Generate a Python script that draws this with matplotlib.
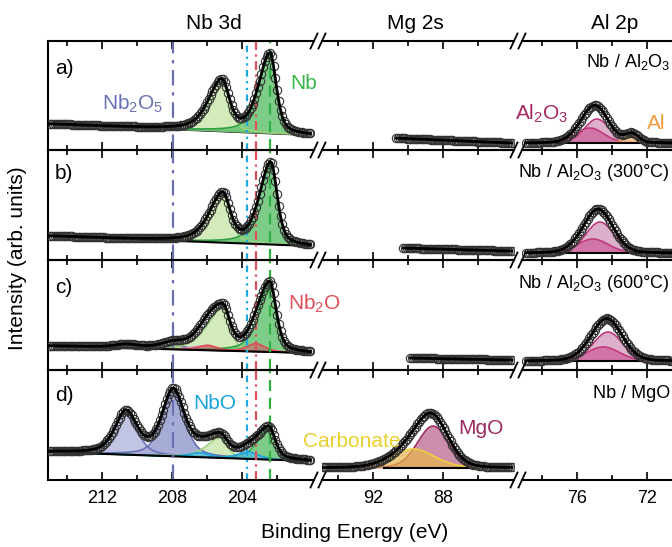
import numpy as np
import matplotlib.pyplot as plt
from matplotlib.lines import Line2D

plt.rcParams['font.family'] = ['Liberation Sans', 'DejaVu Sans']
plt.rcParams['mathtext.default'] = 'regular'

W, H = 672, 547

# ---------------- values ----------------
# intensities are arbitrary units (roughly px above the floor of each row)
row_tags = ['a)', 'b)', 'c)', 'd)']
samples = ['Nb / Al$_2$O$_3$', 'Nb / Al$_2$O$_3$ (300°C)',
           'Nb / Al$_2$O$_3$ (600°C)', 'Nb / MgO']

# Nb 3d
nb_E = (215.09, 200.1)
nb_bg_hi = [26, 24, 24, 28]
nb_bg_lo = [15, 14, 17, 19]
nb_met_pos = [202.40, 202.35, 202.40, 202.46]
nb_met_amp = [80, 82, 67, 31]
nb_met32_pos = [205.15, 205.10, 205.10, 205.25]
nb_met32_amp = [50, 48, 42, 20]
nb_met32_tail = [1.8, 1.8, 2.2, 1.8]
nb2o5_pos = [207.93, 210.63]
nb2o5_amp = [[0, 0], [0, 0], [5, 3], [65, 42]]
nbo_pos = [203.65, 206.40]
nbo_amp = [[0, 0], [0, 0], [0, 0], [7, 4.5]]
nb2o_pos = [203.20, 205.95]
nb2o_amp = [[0, 0], [0, 0], [8, 5], [0, 0]]
nbo2_pos = 206.3
nbo2_amp = [0, 0, 4, 0]
nb_marks = [207.93, 203.73, 203.20, 202.40]   # Nb2O5, NbO, Nb2O, Nb

# Mg 2s
mg_flat_start = [90.74, 90.34, 89.90]
mg_flat_end = 84.06
mg_flat_hi = [12, 12, 12]
mg_flat_lo = [7, 9, 10]
mg_d_E = (94.9, 84.06)
mg_d_bg = 12
mgo = (88.57, 42, 2.1)
carbonate = (89.70, 19, 2.9)

# Al 2p
al_E = (78.97, 68.7)
al_bg = [7, 7, 9]
al2o3_pos = [74.86, 74.69, 74.23]
al2o3_amp = [24, 31, 29]
al2o3_w = [1.7, 1.9, 2.0]
al2o3b_pos = [75.26, 75.09, 74.50]
al2o3b_amp = [15, 14, 14]
al2o3b_w = [1.9, 2.1, 2.2]
al_met = (72.86, 9, 0.9)

# ---------------- helpers ----------------
def pv(E, c, h, w, tail=1.0, eta=0.5):
    ww = np.where(E > c, w * tail, w)
    x = 2 * (E - c) / ww
    return h * (eta / (1 + x**2) + (1 - eta) * np.exp(-np.log(2) * x**2))

def comp(ax, E, base, y, fc, ec, alpha=0.75, z=1.0):
    ax.fill_between(E, base, base + y, color=fc, alpha=alpha, lw=0, zorder=z)
    ax.plot(E, base + y, color=ec, lw=1.2, zorder=z + 0.05)

def data(ax, E, y):
    ax.plot(E, y, 'o', ms=6, mfc='none', mec='#333333', mew=0.8, zorder=3)

def fit(ax, E, y):
    ax.plot(E, y, color='k', lw=2, zorder=4)

def box(x0, x1, y0, y1):
    return [x0 / W, 1 - y1 / H, (x1 - x0) / W, (y1 - y0) / H]

fig = plt.figure(figsize=(W / 100, H / 100), dpi=100)

tops = [41, 150, 260, 370]
bots = [150, 260, 370, 480]
cols = [(48, 314), (322, 514), (522, 705)]
xlims = [(215.086, 199.886), (94.914, 83.943), (79.143, 68.686)]
majors = [[212, 208, 204], [92, 88], [76, 72]]
minors = [[214, 210, 206, 202], [94, 90, 86], [78, 74, 70]]

axes = []
for r in range(4):
    row = []
    for c in range(3):
        ax = fig.add_axes(box(cols[c][0], cols[c][1], tops[r], bots[r]))
        ax.set_xlim(*xlims[c])
        ax.set_ylim(0, bots[r] - tops[r])
        ax.set_yticks([])
        ax.set_xticks(majors[c])
        ax.set_xticks(minors[c], minor=True)
        ax.tick_params(which='both', direction='in', top=True, bottom=True,
                       width=1.2, labelsize=13, pad=7, labelbottom=(r == 3))
        ax.tick_params(which='major', length=6)
        ax.tick_params(which='minor', length=3.5)
        ax.spines['right'].set_visible(False)
        ax.spines['left'].set_visible(c == 0)
        for s in ax.spines.values():
            s.set_linewidth(1.5)
        ax.patch.set_alpha(0)
        row.append(ax)
    axes.append(row)

# ---------------- Nb 3d ----------------
blue_fc = ['#8a90c9', '#adb1da']
for r in range(4):
    ax = axes[r][0]
    E = np.arange(nb_E[1], nb_E[0], 0.1)[::-1]
    bg = nb_bg_lo[r] + (E - nb_E[1]) / (nb_E[0] - nb_E[1]) * (nb_bg_hi[r] - nb_bg_lo[r])
    parts = []
    for k in range(2):
        if nb2o5_amp[r][k] > 0:
            y = pv(E, nb2o5_pos[k], nb2o5_amp[r][k], 1.5)
            comp(ax, E, bg, y, blue_fc[k], '#6b72b6')
            parts.append(y)
    if nbo2_amp[r] > 0:
        y = pv(E, nbo2_pos, nbo2_amp[r], 1.5)
        comp(ax, E, bg, y, '#dcaac6', '#cf8fb5')
        parts.append(y)
    w32 = 0.95 if r == 2 else 1.0
    y = pv(E, nb_met32_pos[r], nb_met32_amp[r], w32, nb_met32_tail[r])
    comp(ax, E, bg, y, '#c9e6aa', '#9fd37f', alpha=0.8)
    parts.append(y)
    y = pv(E, nb_met_pos[r], nb_met_amp[r], 0.85, 1.8)
    comp(ax, E, bg, y, '#5cc16a', '#2ea043', alpha=0.8)
    parts.append(y)
    for k in range(2):
        if nbo_amp[r][k] > 0:
            y = pv(E, nbo_pos[k], nbo_amp[r][k], 1.4)
            comp(ax, E, bg, y, '#4bb9e6', '#1aa3dc', z=1.2)
            parts.append(y)
        if nb2o_amp[r][k] > 0:
            y = pv(E, nb2o_pos[k], nb2o_amp[r][k], 1.2)
            comp(ax, E, bg, y, '#c9626a', '#e04a56', alpha=0.6, z=1.2)
            parts.append(y)
    ax.plot(E, bg, color='k', lw=1.5, zorder=2 if r > 0 else 0.5)
    total = bg + np.sum(parts, axis=0)
    data(ax, E, total)
    fit(ax, E, total)
    ax.axvline(nb_marks[0], color='#6870b2', lw=1.6, ls=(0, (7, 3, 1.5, 3)), zorder=2.5)
    ax.axvline(nb_marks[1], color='#1ea8e0', lw=1.6, ls=(0, (3, 2, 1, 2, 1, 2)), zorder=2.5)
    ax.axvline(nb_marks[2], color='#e0505a', lw=1.6, ls=(0, (4, 2, 1, 2)), zorder=2.5)
    ax.axvline(nb_marks[3], color='#30b040', lw=1.6, ls=(0, (5, 3)), zorder=2.5)

# ---------------- Mg 2s ----------------
for r in range(3):
    ax = axes[r][1]
    E = np.arange(mg_flat_end, mg_flat_start[r], 0.1)[::-1]
    y = mg_flat_lo[r] + (E - mg_flat_end) / (mg_flat_start[r] - mg_flat_end) * (mg_flat_hi[r] - mg_flat_lo[r])
    data(ax, E, y)
    fit(ax, E, y)

ax = axes[3][1]
E = np.arange(mg_d_E[1], mg_d_E[0], 0.1)[::-1]
bg = np.full_like(E, mg_d_bg, dtype=float)
y_mgo = pv(E, *mgo, eta=0.2)
y_car = pv(E, *carbonate, eta=0.2)
comp(ax, E, bg, y_mgo, '#c27a9c', '#a02a62', alpha=0.85)
comp(ax, E, bg, y_car, '#e8b54a', '#f0d040', alpha=0.7, z=1.2)
sel = (E < 91.45) & (E > 86.2)
ax.plot(E[sel], bg[sel], color='k', lw=1.5, zorder=2)
total = bg + y_mgo + y_car
data(ax, E, total)
fit(ax, E, total)

# ---------------- Al 2p ----------------
for r in range(3):
    ax = axes[r][2]
    E = np.arange(al_E[1], al_E[0], 0.1)[::-1]
    bg = np.full_like(E, al_bg[r], dtype=float)
    ya = pv(E, al2o3_pos[r], al2o3_amp[r], al2o3_w[r], eta=0.15)
    yb = pv(E, al2o3b_pos[r], al2o3b_amp[r], al2o3b_w[r], eta=0.15)
    comp(ax, E, bg, ya, '#d49bbd', '#c0397c', alpha=0.8)
    comp(ax, E, bg, yb, '#c9448a', '#c0397c', alpha=0.55, z=1.2)
    total = bg + ya + yb
    if r == 0:
        ym = pv(E, *al_met, eta=0.2)
        comp(ax, E, bg, ym, '#f7c48a', '#f0a050', alpha=0.9, z=1.3)
        total = total + ym
    sel = (E < 77.2) & (E > 72.2)
    ax.plot(E[sel], bg[sel], color='k', lw=1.5, zorder=2)
    data(ax, E, total)
    fit(ax, E, total)

# ---------------- axis breaks ----------------
for yb in [41, 150, 260, 370, 480]:
    for xb in [314, 322, 514, 522]:
        fig.add_artist(Line2D([(xb - 3.5) / W, (xb + 3.5) / W],
                              [1 - (yb + 7.5) / H, 1 - (yb - 7.5) / H],
                              color='k', lw=1.3))

# ---------------- text ----------------
def ftext(x, y, s, **kw):
    fig.text(x / W, 1 - y / H, s, **kw)

ftext(214, 29, 'Nb 3d', fontsize=15, ha='center', va='baseline')
ftext(415, 29, 'Mg 2s', fontsize=15, ha='center', va='baseline')
ftext(615, 29, 'Al 2p', fontsize=15, ha='center', va='baseline')
ftext(355, 533, 'Binding Energy (eV)', fontsize=15, ha='center', va='center')
ftext(18, 258, 'Intensity (arb. units)', fontsize=15, ha='center', va='center', rotation=90)

tag_y = [68, 173, 287, 395]
for r in range(4):
    ftext(55, tag_y[r] + 6, row_tags[r], fontsize=15, ha='left', va='baseline')
sample_y = [62, 172, 283, 393]
for r in range(4):
    ftext(670, sample_y[r] + 5, samples[r], fontsize=13, ha='right', va='baseline')

ftext(102, 110, 'Nb$_2$O$_5$', fontsize=15, color='#6a72b6', va='baseline')
ftext(290, 89, 'Nb', fontsize=15, color='#3ab54a', va='baseline')
ftext(515, 120, 'Al$_2$O$_3$', fontsize=15, color='#a52a62', va='baseline')
ftext(647, 129, 'Al', fontsize=15, color='#f39a3c', va='baseline')
ftext(288, 310, 'Nb$_2$O', fontsize=15, color='#e0505a', va='baseline')
ftext(193, 409, 'NbO', fontsize=15, color='#1aa3dc', va='baseline')
ftext(400, 447, 'Carbonate', fontsize=15, color='#e8d030', ha='right', va='baseline')
ftext(458, 434, 'MgO', fontsize=15, color='#9b2a5e', va='baseline')

fig.savefig('out.png', dpi=100)
